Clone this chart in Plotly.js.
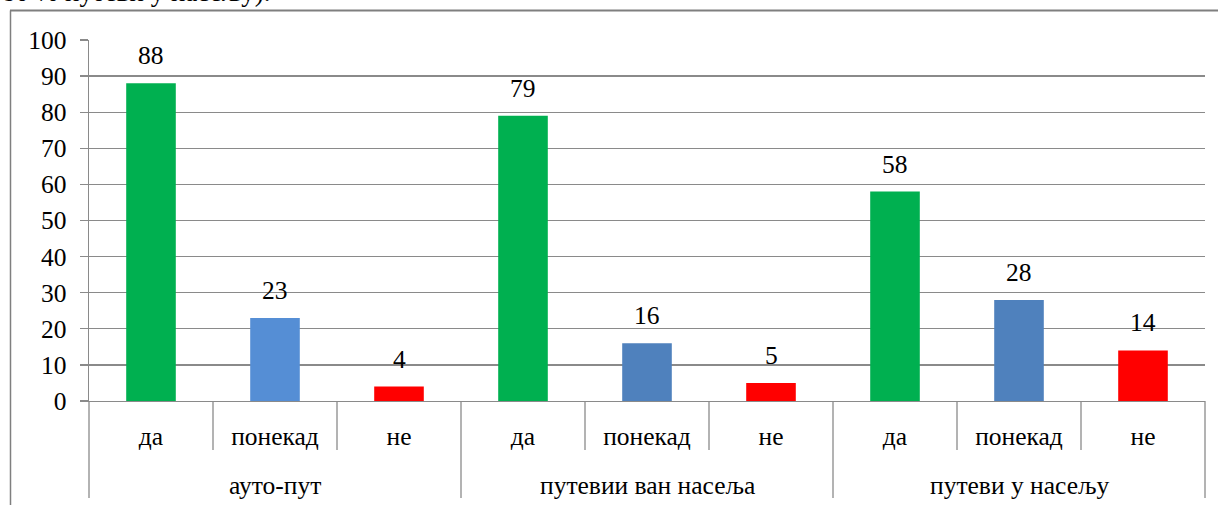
<!DOCTYPE html>
<html>
<head>
<meta charset="utf-8">
<script src="https://cdn.plot.ly/plotly-3.0.1.min.js"></script>
<style>
html,body{margin:0;padding:0;background:#fff;}
#chart{width:1218px;height:505px;}
#chart text{font-family:"Liberation Serif","Times New Roman",serif !important;}
</style>
</head>
<body>
<div id="chart"></div>
<script>
// ---- data ----
const groups = ['ауто-пут', 'путевии ван насеља', 'путеви у насељу'];
const answers = ['да', 'понекад', 'не'];
const values = [88, 23, 4, 79, 16, 5, 58, 28, 14];
const yTicks = [0, 10, 20, 30, 40, 50, 60, 70, 80, 90, 100];
const topNote = '80 % путеви у насељу).';

// ---- styling ----
const barColors = ['#00B050', '#558ED5', '#FF0000',
                   '#00B050', '#4F81BD', '#FF0000',
                   '#00B050', '#4F81BD', '#FF0000'];
const FONT = 'Liberation Serif';
const FS = 25.5;
const GRID = '#8a8a8a';

const n = values.length;
const xIdx = values.map((_, i) => i);
const subLabels = xIdx.map(i => answers[i % answers.length]);

const W = 1218, H = 505;
const M = {l: 89, r: 13, t: 40, b: 104};
const plotW = W - M.l - M.r, plotH = H - M.t - M.b;
const px2paperX = p => (p - M.l) / plotW;
const px2paperY = p => (H - M.b - p) / plotH;
const idx2paper = x => (x + 0.5) / n;

const trace = {
  type: 'bar',
  x: xIdx,
  y: values,
  width: 0.4,
  marker: {color: barColors, line: {width: 0}},
  hoverinfo: 'skip'
};

const shapes = [];
for (let b = 0; b <= n; b++) {
  const isGroup = b % answers.length === 0;
  shapes.push({
    type: 'line', xref: 'paper', yref: 'paper',
    x0: idx2paper(b - 0.5), x1: idx2paper(b - 0.5),
    y0: 0, y1: px2paperY(isGroup ? 498 : 450),
    line: {color: GRID, width: 1.3}
  });
}
shapes.push({type: 'line', xref: 'paper', yref: 'paper',
  x0: px2paperX(10), x1: px2paperX(1218), y0: px2paperY(10.5), y1: px2paperY(10.5),
  line: {color: '#7f7f7f', width: 2}});
shapes.push({type: 'line', xref: 'paper', yref: 'paper',
  x0: px2paperX(10.5), x1: px2paperX(10.5), y0: px2paperY(10.5), y1: px2paperY(506),
  line: {color: '#7f7f7f', width: 1.5}});

const annotations = [];
values.forEach((v, i) => {
  annotations.push({
    x: i, y: v, xref: 'x', yref: 'y', text: String(v),
    showarrow: false, yanchor: 'bottom', yshift: 11,
    font: {family: FONT, size: FS, color: '#000'}
  });
});
groups.forEach((g, gi) => {
  annotations.push({
    x: idx2paper(gi * answers.length + (answers.length - 1) / 2), xref: 'paper',
    y: px2paperY(485), yref: 'paper', yanchor: 'middle', xanchor: 'center',
    text: g, showarrow: false,
    font: {family: FONT, size: FS, color: '#000'}
  });
});
annotations.push({
  x: px2paperX(0), xref: 'paper', xanchor: 'left',
  y: px2paperY(9), yref: 'paper', yanchor: 'bottom',
  text: topNote, showarrow: false,
  font: {family: FONT, size: 27, color: '#000'}
});

const layout = {
  width: W, height: H,
  margin: M,
  paper_bgcolor: '#fff', plot_bgcolor: '#fff',
  showlegend: false,
  xaxis: {
    range: [-0.5, n - 0.5],
    tickvals: xIdx, ticktext: subLabels,
    ticks: '', showgrid: false, zeroline: false,
    showline: true, linecolor: GRID, linewidth: 1.3,
    ticklabelstandoff: 12,
    tickfont: {family: FONT, size: FS, color: '#000'},
    fixedrange: true
  },
  yaxis: {
    range: [0, 100],
    tickvals: yTicks,
    ticks: 'outside', ticklen: 8, tickcolor: GRID, tickwidth: 1.3,
    showgrid: true, gridcolor: GRID, gridwidth: 1.3,
    zeroline: false,
    showline: true, linecolor: GRID, linewidth: 1.3,
    ticklabelstandoff: 8,
    tickfont: {family: FONT, size: FS, color: '#000'},
    fixedrange: true
  },
  shapes: shapes,
  annotations: annotations
};

Plotly.newPlot('chart', [trace], layout, {displayModeBar: false, staticPlot: true});
</script>
</body>
</html>
